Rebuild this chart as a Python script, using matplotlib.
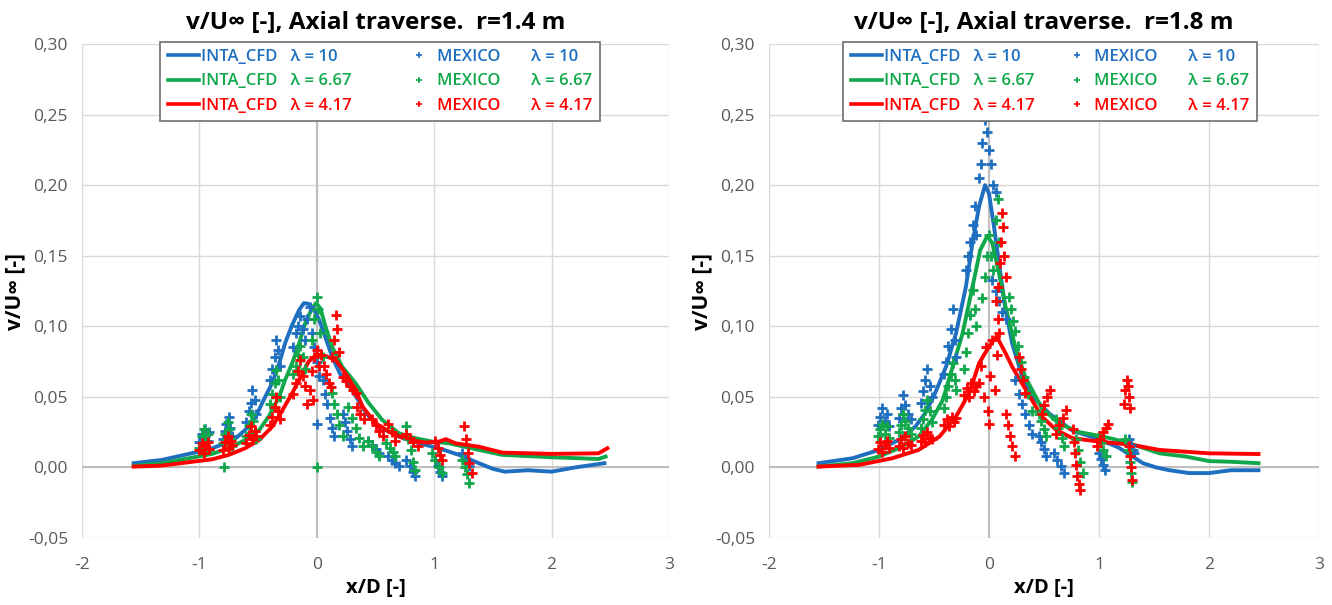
#!/usr/bin/env python3
"""
v/Uinf axial traverse: INTA CFD vs MEXICO measurements, r=1.4 m and r=1.8 m
"""

import matplotlib
matplotlib.use("Agg")
import matplotlib.pyplot as plt
from matplotlib.lines import Line2D

plt.rcParams["font.family"] = ["Open Sans", "DejaVu Sans"]
plt.rcParams["axes.unicode_minus"] = False

BLUE = "#1f6fc0"
GREEN = "#10a84a"
RED = "#ff0000"

LAMBDAS = ["10", "6.67", "4.17"]
RADII = ["1.4", "1.8"]

X_TICKS = [-2, -1, 0, 1, 2, 3]
X_TICK_LABELS = ["-2", "-1", "0", "1", "2", "3"]
Y_TICKS = [-0.05, 0.0, 0.05, 0.10, 0.15, 0.20, 0.25, 0.30]
Y_TICK_LABELS = ["-0,05", "0,00", "0,05", "0,10", "0,15", "0,20", "0,25", "0,30"]

# ---- r = 1.4 m, INTA CFD ----
cfd14_x_l10 = [-1.56, -1.32, -1.09, -1.0, -0.89, -0.78, -0.69, -0.61, -0.52, -0.44, -0.38,
               -0.32, -0.27, -0.21, -0.15, -0.11, -0.07, -0.03, 0.02, 0.07, 0.13, 0.20, 0.30,
               0.42, 0.53, 0.70, 0.87, 1.04, 1.21, 1.38, 1.50, 1.60, 1.80, 2.00, 2.20, 2.45]
cfd14_y_l10 = [0.003, 0.0053, 0.0096, 0.0112, 0.0136, 0.0171, 0.0207, 0.0266, 0.036, 0.050,
               0.0597, 0.0738, 0.088, 0.101, 0.1116, 0.1164, 0.1159, 0.1128, 0.1045, 0.093,
               0.0785, 0.066, 0.055, 0.0384, 0.0289, 0.0218, 0.0171, 0.0136, 0.0089, 0.003,
               -0.001, -0.003, -0.002, -0.003, 0.0, 0.003]
cfd14_x_l667 = [-1.56, -1.32, -1.09, -0.89, -0.75, -0.61, -0.49, -0.41, -0.32, -0.27, -0.21,
                -0.15, -0.10, -0.04, -0.006, 0.03, 0.074, 0.13, 0.216, 0.33, 0.443, 0.557,
                0.699, 0.841, 0.983, 1.125, 1.381, 1.58, 2.0, 2.40, 2.46]
cfd14_y_l667 = [0.0011, 0.003, 0.0065, 0.0096, 0.0136, 0.0195, 0.0266, 0.036, 0.0502, 0.062,
                0.0738, 0.088, 0.102, 0.1128, 0.1164, 0.1128, 0.0998, 0.0856, 0.0714, 0.0597,
                0.0455, 0.0337, 0.0242, 0.0207, 0.0183, 0.0171, 0.0124, 0.0089, 0.0072, 0.006,
                0.0077]
cfd14_x_l417 = [-1.56, -1.32, -1.09, -0.89, -0.75, -0.61, -0.49, -0.38, -0.30, -0.21, -0.15,
                -0.07, 0.0, 0.07, 0.16, 0.25, 0.33, 0.39, 0.50, 0.64, 0.78, 0.93, 1.04, 1.10,
                1.18, 1.38, 1.58, 2.0, 2.40, 2.475]
cfd14_y_l417 = [0.0006, 0.0013, 0.0037, 0.0058, 0.0089, 0.0136, 0.0195, 0.0289, 0.0395, 0.0526,
                0.062, 0.075, 0.080, 0.079, 0.0762, 0.066, 0.055, 0.0431, 0.0313, 0.0242,
                0.0195, 0.0176, 0.0183, 0.020, 0.0171, 0.0147, 0.0105, 0.0096, 0.010, 0.0136]

# ---- r = 1.4 m, MEXICO ----
mex14_x_l10 = [-1.00, -0.98, -0.96, -0.95, -0.93, -0.92,
               -0.80, -0.78, -0.77, -0.75, -0.74, -0.72,
               -0.60, -0.58, -0.56, -0.55, -0.53, -0.52,
               -0.40, -0.38, -0.36, -0.35, -0.33, -0.31,
               -0.20, -0.18, -0.16, -0.14, -0.12, -0.10,
               -0.08, -0.06, -0.04, -0.02, 0.0, 0.02, 0.003,
               0.05, 0.07, 0.09, 0.11, 0.13, 0.15,
               0.22, 0.24, 0.26, 0.28, 0.30,
               0.44, 0.47, 0.50, 0.53,
               0.61, 0.64, 0.67, 0.70,
               0.76, 0.79, 0.82, 0.84,
               1.01, 1.03, 1.05, 1.07,
               1.24, 1.26, 1.28, 1.30]
mex14_y_l10 = [0.018, 0.024, 0.021, 0.027, 0.019, 0.025,
               0.020, 0.026, 0.031, 0.036, 0.028, 0.022,
               0.032, 0.040, 0.046, 0.055, 0.048, 0.038,
               0.062, 0.070, 0.078, 0.090, 0.083, 0.072,
               0.085, 0.095, 0.100, 0.107, 0.098, 0.090,
               0.105, 0.114, 0.095, 0.085, 0.075, 0.065, 0.031,
               0.062, 0.052, 0.045, 0.035, 0.028, 0.022,
               0.038, 0.032, 0.026, 0.020, 0.015,
               0.019, 0.016, 0.013, 0.010,
               0.008, 0.005, 0.003, 0.001,
               0.005, 0.001, -0.003, -0.006,
               0.005, 0.001, -0.003, -0.006,
               0.010, 0.007, 0.004, 0.001]
mex14_x_l667 = [-1.00, -0.98, -0.96, -0.95, -0.93, -0.92, -0.79,
                -0.80, -0.78, -0.76, -0.75, -0.73, -0.72,
                -0.60, -0.58, -0.56, -0.54, -0.53, -0.52,
                -0.40, -0.38, -0.36, -0.35, -0.33, -0.31,
                -0.20, -0.18, -0.16, -0.14, -0.12, -0.10,
                -0.04, -0.02, 0.0, 0.01, 0.03, 0.05, 0.0,
                0.13, 0.15, 0.17, 0.19, 0.22,
                0.27, 0.30, 0.33, 0.36, 0.39,
                0.44, 0.47, 0.50, 0.53,
                0.59, 0.62, 0.65, 0.67,
                0.76, 0.78, 0.80, 0.82, 0.84,
                0.98, 1.01, 1.04, 1.07,
                1.24, 1.26, 1.28, 1.30]
mex14_y_l667 = [0.014, 0.022, 0.027, 0.018, 0.024, 0.012, 0.0,
                0.017, 0.024, 0.032, 0.027, 0.020, 0.015,
                0.022, 0.030, 0.038, 0.033, 0.026, 0.020,
                0.045, 0.052, 0.060, 0.069, 0.062, 0.050,
                0.066, 0.072, 0.080, 0.086, 0.078, 0.070,
                0.090, 0.105, 0.121, 0.112, 0.095, 0.078, 0.0,
                0.053, 0.045, 0.038, 0.030, 0.022,
                0.043, 0.035, 0.028, 0.021, 0.015,
                0.019, 0.015, 0.011, 0.008,
                0.017, 0.014, 0.011, 0.008,
                0.029, 0.020, 0.012, 0.004, -0.002,
                0.010, 0.005, 0.0, -0.004,
                0.005, 0.0, -0.005, -0.011]
mex14_x_l417 = [-1.00, -0.98, -0.96, -0.95, -0.93, -0.92,
                -0.80, -0.78, -0.76, -0.75, -0.73, -0.72,
                -0.60, -0.58, -0.56, -0.55, -0.53, -0.52,
                -0.40, -0.38, -0.36, -0.35, -0.33, -0.31,
                -0.20, -0.18, -0.16, -0.14, -0.12, -0.10,
                -0.08, -0.06, -0.04, -0.02, 0.0, 0.02, -0.03,
                0.13, 0.15, 0.16, 0.17, 0.19,
                0.04, 0.06, 0.08, 0.10, 0.12,
                0.22, 0.25, 0.28, 0.31, 0.33,
                0.34, 0.37, 0.40,
                0.47, 0.50, 0.53, 0.56,
                0.61, 0.64, 0.67,
                0.76, 0.79, 0.82, 0.86,
                1.01, 1.03, 1.05, 1.07,
                1.25, 1.27, 1.29, 1.30, 1.32]
mex14_y_l417 = [0.012, 0.017, 0.010, 0.015, 0.018, 0.013,
                0.012, 0.018, 0.022, 0.014, 0.019, 0.016,
                0.017, 0.023, 0.029, 0.020, 0.026, 0.022,
                0.030, 0.036, 0.043, 0.050, 0.040, 0.034,
                0.052, 0.060, 0.068, 0.076, 0.065, 0.058,
                0.045, 0.055, 0.068, 0.078, 0.083, 0.072, 0.048,
                0.078, 0.090, 0.108, 0.098, 0.082,
                0.080, 0.072, 0.066, 0.060, 0.057,
                0.064, 0.061, 0.058, 0.055, 0.053,
                0.043, 0.038, 0.034,
                0.034, 0.030, 0.026, 0.022,
                0.031, 0.025, 0.019,
                0.024, 0.021, 0.018, 0.015,
                0.019, 0.014, 0.009, 0.005,
                0.029, 0.020, 0.010, 0.003, -0.004]

# ---- r = 1.8 m, INTA CFD ----
cfd18_x_l10 = [-1.55, -1.24, -1.0, -0.82, -0.67, -0.58, -0.49, -0.39, -0.30, -0.21, -0.15,
               -0.09, -0.036, 0.0, 0.045, 0.09, 0.15, 0.21, 0.30, 0.40, 0.55, 0.76, 1.0,
               1.18, 1.30, 1.40, 1.52, 1.64, 1.82, 2.0, 2.2, 2.45]
cfd18_y_l10 = [0.003, 0.0065, 0.0124, 0.0195, 0.0289, 0.0384, 0.0526, 0.0715, 0.095, 0.128,
               0.159, 0.185, 0.200, 0.194, 0.171, 0.145, 0.112, 0.088, 0.065, 0.050, 0.038,
               0.026, 0.020, 0.014, 0.008, 0.003, 0.0, -0.002, -0.004, -0.004, -0.002, -0.002]
cfd18_x_l667 = [-1.55, -1.24, -1.0, -0.82, -0.64, -0.52, -0.42, -0.33, -0.24, -0.15, -0.08,
                -0.015, 0.03, 0.09, 0.15, 0.24, 0.33, 0.48, 0.64, 0.82, 1.03, 1.24, 1.55,
                1.79, 2.0, 2.2, 2.45]
cfd18_y_l667 = [0.0006, 0.003, 0.0077, 0.0136, 0.0219, 0.0337, 0.0478, 0.0715, 0.095, 0.128,
                0.154, 0.164, 0.159, 0.138, 0.114, 0.085, 0.064, 0.042, 0.031, 0.025, 0.022,
                0.018, 0.010, 0.0077, 0.0045, 0.004, 0.003]
cfd18_x_l417 = [-1.55, -1.18, -0.88, -0.64, -0.45, -0.30, -0.18, -0.09, 0.0, 0.07, 0.15, 0.21,
                0.30, 0.39, 0.48, 0.61, 0.76, 1.0, 1.3, 1.55, 2.0, 2.45]
cfd18_y_l417 = [0.0006, 0.0018, 0.0065, 0.0124, 0.0219, 0.036, 0.0526, 0.0738, 0.0857, 0.0928,
                0.081, 0.0715, 0.0596, 0.0478, 0.036, 0.0266, 0.0207, 0.0183, 0.016, 0.0124,
                0.010, 0.0095]

# ---- r = 1.8 m, MEXICO ----
mex18_x_l10 = [-1.01, -0.99, -0.97, -0.95, -0.93, -0.91,
               -0.82, -0.80, -0.78, -0.76, -0.74, -0.71,
               -0.62, -0.60, -0.58, -0.56, -0.54, -0.52,
               -0.41, -0.39, -0.37, -0.35, -0.33, -0.31, -0.30,
               -0.21, -0.19, -0.17, -0.15, -0.13, -0.12,
               -0.09, -0.07, -0.06, -0.04, -0.02, 0.0, 0.02, 0.04, 0.06,
               0.03, 0.06, 0.09, 0.12, 0.15,
               0.24, 0.27, 0.30, 0.33, 0.36, 0.39,
               0.45, 0.47, 0.50, 0.52,
               0.59, 0.62, 0.65, 0.68,
               1.00, 1.02, 1.04, 1.05,
               1.27, 1.29, 1.31, 1.32]
mex18_y_l10 = [0.030, 0.036, 0.042, 0.033, 0.038, 0.029,
               0.035, 0.042, 0.051, 0.044, 0.038, 0.034,
               0.046, 0.054, 0.062, 0.070, 0.058, 0.050,
               0.066, 0.075, 0.086, 0.098, 0.112, 0.090, 0.078,
               0.140, 0.150, 0.160, 0.172, 0.185, 0.165,
               0.205, 0.215, 0.230, 0.246, 0.238, 0.225, 0.215, 0.200, 0.195,
               0.133, 0.125, 0.118, 0.110, 0.105,
               0.062, 0.052, 0.045, 0.038, 0.030, 0.024,
               0.022, 0.018, 0.013, 0.008,
               0.010, 0.005, 0.001, -0.004,
               0.010, 0.006, 0.002, -0.002,
               0.020, 0.016, 0.012, 0.010]
mex18_x_l667 = [-1.01, -0.99, -0.97, -0.95, -0.93, -0.91,
                -0.82, -0.80, -0.78, -0.76, -0.74, -0.71,
                -0.62, -0.60, -0.58, -0.56, -0.54, -0.52,
                -0.41, -0.39, -0.37, -0.35, -0.33, -0.31, -0.30,
                -0.23, -0.21, -0.19, -0.17, -0.15, -0.13, -0.12,
                -0.06, -0.04, -0.02, 0.0, 0.02, 0.04, 0.06, 0.08, 0.09,
                0.18, 0.20, 0.22, 0.24,
                0.26, 0.29, 0.32, 0.35, 0.39,
                0.45, 0.47, 0.50, 0.52,
                0.61, 0.63, 0.66, 0.68,
                0.79, 0.81, 0.83, 0.85,
                1.00, 1.02, 1.04, 1.06,
                1.24, 1.26, 1.28, 1.29, 1.30]
mex18_y_l667 = [0.022, 0.027, 0.031, 0.024, 0.029, 0.021,
                0.025, 0.030, 0.038, 0.033, 0.028, 0.024,
                0.028, 0.034, 0.041, 0.048, 0.040, 0.032,
                0.042, 0.050, 0.058, 0.066, 0.074, 0.062, 0.055,
                0.070, 0.082, 0.095, 0.108, 0.126, 0.112, 0.100,
                0.120, 0.135, 0.150, 0.165, 0.150, 0.140, 0.175, 0.190, 0.160,
                0.121, 0.112, 0.104, 0.097,
                0.086, 0.075, 0.064, 0.052, 0.040,
                0.038, 0.033, 0.027, 0.022,
                0.034, 0.028, 0.021, 0.015,
                0.020, 0.012, 0.004, -0.004,
                0.022, 0.017, 0.012, 0.008,
                0.020, 0.012, 0.004, -0.004, -0.010]
mex18_x_l417 = [-1.01, -0.99, -0.97, -0.95, -0.93, -0.91,
                -0.82, -0.80, -0.78, -0.76, -0.74, -0.71,
                -0.62, -0.60, -0.58, -0.56, -0.54, -0.52,
                -0.41, -0.38, -0.36, -0.34, -0.32, -0.30,
                -0.23, -0.20, -0.18, -0.16, -0.14, -0.12,
                -0.09, -0.07, -0.05, -0.03, -0.01, 0.0, 0.01, 0.03, 0.05, 0.07,
                0.08, 0.10, 0.11, 0.12, 0.13, 0.14, 0.15,
                0.06, 0.08, 0.09,
                0.15, 0.17, 0.19, 0.21, 0.24,
                0.27, 0.29, 0.31, 0.33,
                0.48, 0.50, 0.53, 0.55,
                0.61, 0.64, 0.67, 0.70,
                0.76, 0.77, 0.78, 0.79, 0.80, 0.82, 0.83,
                0.98, 1.01, 1.04, 1.06, 1.08,
                1.23, 1.24, 1.25, 1.26, 1.27, 1.28,
                1.27, 1.28, 1.29, 1.30]
mex18_y_l417 = [0.013, 0.018, 0.011, 0.016, 0.019, 0.014,
                0.015, 0.020, 0.014, 0.022, 0.017, 0.016,
                0.019, 0.023, 0.018, 0.025, 0.021, 0.020,
                0.030, 0.034, 0.029, 0.036, 0.032, 0.035,
                0.051, 0.056, 0.050, 0.060, 0.054, 0.058,
                0.060, 0.072, 0.050, 0.085, 0.040, 0.031, 0.065, 0.090, 0.055, 0.080,
                0.128, 0.145, 0.160, 0.180, 0.170, 0.150, 0.135,
                0.118, 0.105, 0.095,
                0.038, 0.030, 0.022, 0.015, 0.008,
                0.078, 0.070, 0.062, 0.053,
                0.038, 0.044, 0.050, 0.055,
                0.024, 0.030, 0.035, 0.041,
                0.027, 0.018, 0.010, 0.002, -0.006, -0.012, -0.016,
                0.015, 0.020, 0.025, 0.028, 0.031,
                0.045, 0.055, 0.062, 0.058, 0.050, 0.042,
                0.015, 0.008, 0.0, -0.009]


def style_axes(ax, radius):
    ax.set_xlim(-2, 3)
    ax.set_ylim(-0.05, 0.30)
    ax.set_xticks(X_TICKS)
    ax.set_xticklabels(X_TICK_LABELS)
    ax.set_yticks(Y_TICKS)
    ax.set_yticklabels(Y_TICK_LABELS)
    ax.tick_params(length=0, labelsize=12.5, labelcolor="#595959")
    ax.tick_params(axis="x", pad=14)
    ax.tick_params(axis="y", pad=10)
    ax.grid(True, color="#d9d9d9", linewidth=1.0)
    ax.set_axisbelow(True)
    for s in ax.spines.values():
        s.set_visible(False)
    ax.axhline(0, color="#bfbfbf", linewidth=1.5, zorder=1)
    ax.axvline(0, color="#bfbfbf", linewidth=1.5, zorder=1)
    ax.set_xlabel("x/D [-]", fontsize=14.5, fontweight="bold", labelpad=3)
    ax.set_ylabel("v/U∞ [-]", fontsize=15, fontweight="bold", labelpad=2)
    ax.set_title(f"v/U∞ [-], Axial traverse.  r={radius} m",
                 fontsize=17.5, fontweight="bold", pad=11)


def draw_panel(ax, cfd, mex, radius, leg_x0, leg_w):
    colors = [BLUE, GREEN, RED]
    for (x, y), c in zip(cfd, colors):
        ax.plot(x, y, color=c, linewidth=2.8, zorder=3)
    for (x, y), c in zip(mex, colors):
        ax.plot(x, y, linestyle="none", marker="+", markersize=6.5,
                markeredgewidth=2.0, color=c, zorder=4)
    style_axes(ax, radius)

    handles = [Line2D([], [], color=c, linewidth=2.6) for c in colors]
    handles += [Line2D([], [], color=c, linestyle="none", marker="+",
                       markersize=4, markeredgewidth=1.2) for c in colors]
    labels = [f"INTA_CFD   λ = {l}" for l in LAMBDAS]
    labels += [f"MEXICO       λ = {l}" for l in LAMBDAS]
    leg = ax.legend(handles, labels, ncol=2, loc="upper left",
                    bbox_to_anchor=(leg_x0, 0.5, leg_w, 0.505), mode="expand",
                    fancybox=False, edgecolor="#6e6e6e", framealpha=1.0,
                    labelcolor=colors + colors, handlelength=1.9,
                    handletextpad=0.1, labelspacing=0.5, borderaxespad=0,
                    borderpad=0.45, prop={"size": 12, "weight": "semibold"})
    leg.get_frame().set_linewidth(1.2)
    leg.set_zorder(10)


def main():
    fig = plt.figure(figsize=(13.32, 6.05), dpi=100)
    ax1 = fig.add_axes([82 / 1332, 1 - 538 / 605, 587 / 1332, 494 / 605])
    ax2 = fig.add_axes([769 / 1332, 1 - 538 / 605, 550 / 1332, 494 / 605])

    draw_panel(ax1,
               [(cfd14_x_l10, cfd14_y_l10), (cfd14_x_l667, cfd14_y_l667),
                (cfd14_x_l417, cfd14_y_l417)],
               [(mex14_x_l10, mex14_y_l10), (mex14_x_l667, mex14_y_l667),
                (mex14_x_l417, mex14_y_l417)],
               RADII[0], 0.133, 0.749)
    draw_panel(ax2,
               [(cfd18_x_l10, cfd18_y_l10), (cfd18_x_l667, cfd18_y_l667),
                (cfd18_x_l417, cfd18_y_l417)],
               [(mex18_x_l10, mex18_y_l10), (mex18_x_l667, mex18_y_l667),
                (mex18_x_l417, mex18_y_l417)],
               RADII[1], 0.135, 0.752)

    fig.savefig("out.png", dpi=100)


if __name__ == "__main__":
    main()
